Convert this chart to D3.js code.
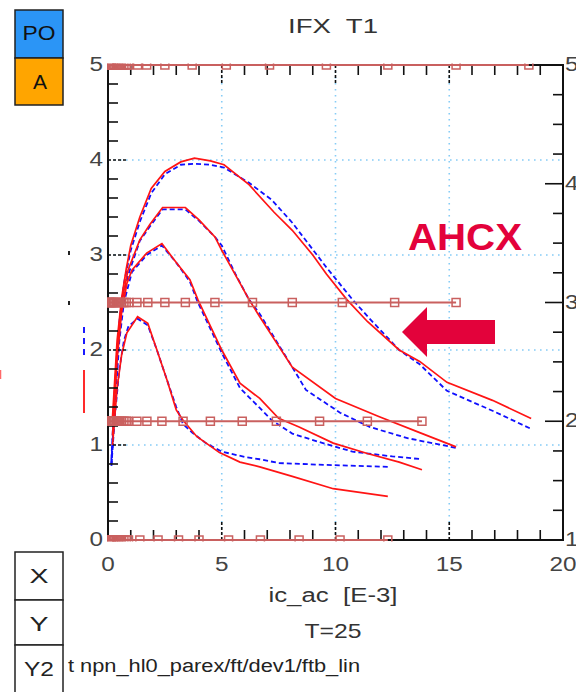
<!DOCTYPE html>
<html><head><meta charset="utf-8">
<script src="https://cdn.jsdelivr.net/npm/d3@7"></script>
<style>body{margin:0;background:#fff}svg{display:block}</style>
</head><body>
<svg id="c" width="576" height="692"></svg>
<script>
// ---------- data ----------
const xTickLabels = [0,5,10,15,20];
const yTickLabels = [0,1,2,3,4,5];
const y2TickLabels = [1,2,3,4,5];

// simulated (red, solid) and measured (blue, dashed) curves: [ic_ac (E-3), value]
const redA = [[0.2,1.3],[0.4,2.1],[0.6,2.55],[0.8,2.85],[1.0,3.1],[1.4,3.4],[1.9,3.7],[2.5,3.88],[3.2,3.98],[3.8,4.02],[4.5,3.99],[5.1,3.95],[6.2,3.74],[7.3,3.45],[8.1,3.26],[9.0,3.0],[9.6,2.8],[10.5,2.53],[11.4,2.3],[12.8,2.0],[13.7,1.88],[14.9,1.66],[16.9,1.47],[18.6,1.28]];
const blueA = [[0.15,0.85],[0.3,1.6],[0.5,2.3],[0.7,2.7],[1.0,3.05],[1.4,3.35],[1.9,3.65],[2.5,3.85],[3.2,3.95],[3.8,3.96],[4.5,3.95],[5.1,3.92],[6.2,3.76],[7.2,3.58],[8.1,3.34],[9.6,2.87],[10.75,2.53],[11.5,2.33],[12.8,2.0],[13.7,1.85],[14.9,1.57],[16.9,1.36],[18.6,1.17]];
const redB = [[0.2,1.2],[0.4,2.0],[0.6,2.5],[0.88,2.84],[1.4,3.16],[1.84,3.32],[2.4,3.5],[3.4,3.5],[4.0,3.37],[4.7,3.19],[5.0,3.05],[5.6,2.79],[6.2,2.53],[6.67,2.35],[8.1,1.82],[10.0,1.49],[11.9,1.3],[13.7,1.13],[15.3,0.98]];
const blueB = [[0.15,0.8],[0.3,1.5],[0.5,2.2],[0.7,2.6],[0.9,2.8],[1.4,3.15],[1.84,3.3],[2.4,3.48],[3.4,3.48],[4.0,3.36],[4.7,3.19],[5.0,3.1],[5.6,2.8],[6.2,2.53],[6.67,2.38],[8.1,1.82],[8.7,1.58],[10.2,1.34],[11.5,1.19],[13.2,1.07],[15.3,0.97]];
const redC = [[0.2,1.1],[0.4,1.9],[0.6,2.4],[0.83,2.7],[1.05,2.84],[1.7,3.02],[2.37,3.12],[3.0,2.92],[3.6,2.74],[3.95,2.53],[5.0,2.0],[5.8,1.65],[6.67,1.49],[7.5,1.28],[8.4,1.19],[9.9,1.02],[11.4,0.91],[12.8,0.82],[13.8,0.74]];
const blueC = [[0.15,0.8],[0.3,1.4],[0.5,2.1],[0.7,2.5],[1.05,2.82],[1.7,3.0],[2.37,3.1],[3.0,2.92],[3.6,2.72],[3.95,2.5],[5.0,1.97],[5.8,1.6],[6.67,1.39],[7.2,1.26],[8.1,1.12],[9.3,1.03],[10.75,0.93],[12.5,0.88],[13.8,0.85]];
const redD = [[0.2,1.0],[0.4,1.6],[0.6,1.95],[0.83,2.18],[1.3,2.35],[1.75,2.28],[2.15,2.0],[2.6,1.68],[3.0,1.37],[3.3,1.26],[3.9,1.09],[4.9,0.92],[5.8,0.82],[6.67,0.77],[8.1,0.67],[9.9,0.54],[12.3,0.46]];
const blueD = [[0.15,0.78],[0.3,1.3],[0.5,1.8],[0.7,2.1],[0.9,2.25],[1.3,2.33],[1.75,2.26],[2.15,2.0],[2.6,1.68],[3.0,1.4],[3.3,1.22],[3.7,1.13],[4.3,1.02],[5.0,0.93],[6.1,0.87],[6.67,0.85],[7.5,0.81],[9.6,0.79],[12.3,0.77]];

// Y2 (right axis) constant lines with markers at the bias points
const y2Levels = [5,3,2,1];
const y2X5 = [0.02,0.05,0.08,0.12,0.16,0.2,0.25,0.3,0.36,0.43,0.5,0.6,0.7,0.8,0.9,1.3,1.7,2.5,3.7,5.2,7.1,9.6,12.3,15.3,18.5];
const y2X3 = [0.02,0.05,0.08,0.12,0.16,0.2,0.25,0.3,0.36,0.43,0.5,0.6,0.7,0.8,0.92,1.27,1.75,2.5,3.4,4.7,6.35,8.1,10.3,12.6,15.3];
const y2X2 = [0.02,0.05,0.08,0.12,0.16,0.2,0.25,0.3,0.36,0.43,0.5,0.6,0.7,0.8,0.88,1.27,1.71,2.37,3.3,4.5,5.9,7.4,9.3,11.4,13.8];
const y2X1 = [0.02,0.05,0.08,0.12,0.16,0.2,0.25,0.3,0.36,0.43,0.5,0.6,0.7,0.8,0.9,1.4,2.2,3.1,4.0,5.3,6.7,8.4,10.2,12.3];

// ---------- drawing ----------
const svg = d3.select("#c");
const FONT = "'Liberation Sans', Arial, sans-serif";
const L = 108, R = 563, T = 65, B = 540;
const x = d3.scaleLinear().domain([0,20]).range([L,R]);
const y = d3.scaleLinear().domain([0,5]).range([B,T]);
const y2 = d3.scaleLinear().domain([1,5]).range([B,T]);

const defs = svg.append("defs");
defs.append("clipPath").attr("id","plot")
  .append("rect").attr("x",L).attr("y",T).attr("width",R-L).attr("height",B-T);
defs.append("clipPath").attr("id","plot2")
  .append("rect").attr("x",L-1).attr("y",T-1.5).attr("width",R-L+2).attr("height",B-T+3);

// grid
const gridC = "#86ccf6";
const g = svg.append("g");
[5,10,15].forEach(v => g.append("line").attr("x1",x(v)).attr("x2",x(v)).attr("y1",T).attr("y2",B)
  .attr("stroke",gridC).attr("stroke-width",1.6).attr("stroke-dasharray","1.6,4.4"));
[1,2,3,4].forEach(v => g.append("line").attr("x1",L).attr("x2",R).attr("y1",y(v)).attr("y2",y(v))
  .attr("stroke",gridC).attr("stroke-width",1.6).attr("stroke-dasharray","1.6,4.4"));

// curves
const plot = svg.append("g").attr("clip-path","url(#plot)");
const line = d3.line().x(d => x(d[0])).y(d => y(d[1]));
[blueA,blueB,blueC,blueD].forEach(s => plot.append("path").attr("d",line(s)).attr("fill","none")
  .attr("stroke","#1010ff").attr("stroke-width",1.8).attr("stroke-dasharray","5,3"));
[redA,redB,redC,redD].forEach(s => plot.append("path").attr("d",line(s)).attr("fill","none")
  .attr("stroke","#ff1414").attr("stroke-width",1.7));

// axes frame
const ax = svg.append("g").attr("stroke","#111");
ax.append("rect").attr("x",L).attr("y",T).attr("width",R-L).attr("height",B-T)
  .attr("fill","none").attr("stroke-width",2);
d3.range(1,20).forEach(v => {
  const major = v % 5 === 0;
  const len = major ? 18 : 10;
  [[B,-1],[T,1]].forEach(([y0,dir]) => {
    ax.append("line").attr("x1",x(v)).attr("x2",x(v)).attr("y1",y0).attr("y2",y0+dir*len)
      .attr("stroke-width",1.6).attr("stroke-dasharray", major ? "3,2" : null);
  });
});
d3.range(1,25).forEach(k => {
  const v = k*0.2;
  const major = k % 5 === 0;
  ax.append("line").attr("x1",L).attr("x2",L+(major?18:10)).attr("y1",y(v)).attr("y2",y(v))
    .attr("stroke-width",1.6).attr("stroke-dasharray", major ? "3,2" : null);
});
d3.range(1,16).forEach(k => {
  const v = 1 + k*0.25;
  const major = k % 4 === 0;
  ax.append("line").attr("x1",R).attr("x2",R-(major?18:10)).attr("y1",y2(v)).attr("y2",y2(v))
    .attr("stroke-width",1.6);
});

// y2 lines with square markers (drawn over the frame)
const y2C = "#c9605f";
const plot2 = svg.append("g").attr("clip-path","url(#plot2)");
[y2X5,y2X3,y2X2,y2X1].forEach((xs,i) => {
  const lv = y2Levels[i];
  plot2.append("line").attr("x1",x(0)).attr("x2",x(d3.max(xs))).attr("y1",y2(lv)).attr("y2",y2(lv))
    .attr("stroke",y2C).attr("stroke-width",1.8);
  plot2.selectAll(null).data(xs).enter().append("rect")
    .attr("x",d => x(d)-4).attr("y",y2(lv)-4).attr("width",8).attr("height",8)
    .attr("fill","none").attr("stroke",y2C).attr("stroke-width",1.5);
});

// tick labels
const lab = svg.append("g").attr("font-family",FONT).attr("font-size",20).attr("fill","#444")
  .attr("lengthAdjust","spacingAndGlyphs");
const tl = v => String(v).length * 13.5;
xTickLabels.forEach(v => lab.append("text").attr("x",x(v)).attr("y",571).attr("text-anchor","middle")
  .attr("textLength",tl(v)).attr("lengthAdjust","spacingAndGlyphs").text(v));
yTickLabels.forEach(v => lab.append("text").attr("x",103).attr("y",y(v)+6).attr("text-anchor","end")
  .attr("textLength",tl(v)).attr("lengthAdjust","spacingAndGlyphs").text(v));
y2TickLabels.forEach(v => lab.append("text").attr("x",565).attr("y",y2(v)+6).attr("text-anchor","start")
  .attr("textLength",tl(v)).attr("lengthAdjust","spacingAndGlyphs").text(v));

// titles
const tx = svg.append("g").attr("font-family",FONT).attr("fill","#333");
const txt = (s,xx,yy,fs,len,anchor,fill) => tx.append("text").attr("x",xx).attr("y",yy)
  .attr("text-anchor",anchor).attr("font-size",fs).attr("textLength",len)
  .attr("lengthAdjust","spacingAndGlyphs").attr("fill",fill||"#333").style("white-space","pre").text(s);
txt("IFX  T1",333,33,21,90,"middle");
txt("ic_ac  [E-3]",333,602,20,129,"middle");
txt("T=25",333,638,21,57,"middle");
txt("t npn_hl0_parex/ft/dev1/ftb_lin",68,672,18,292,"start","#222");

// PO / A buttons
const btn = svg.append("g").attr("font-family",FONT);
btn.append("rect").attr("x",15).attr("y",10).attr("width",48).attr("height",48).attr("fill","#2b95f6").attr("stroke","#222").attr("stroke-width",1.5);
btn.append("rect").attr("x",15).attr("y",58).attr("width",48).attr("height",47).attr("fill","#ffa500").attr("stroke","#222").attr("stroke-width",1.5);
btn.append("text").attr("x",39).attr("y",40).attr("text-anchor","middle").attr("font-size",20).attr("fill","#111")
  .attr("textLength",33).attr("lengthAdjust","spacingAndGlyphs").text("PO");
btn.append("text").attr("x",40).attr("y",89).attr("text-anchor","middle").attr("font-size",21).attr("fill","#111").text("A");
[["X",552,600,19],["Y",600,645,19],["Y2",645,700,30]].forEach(([t,y0,y1,w]) => {
  btn.append("rect").attr("x",15).attr("y",y0).attr("width",48).attr("height",y1-y0).attr("fill","#fff").attr("stroke","#222").attr("stroke-width",1.5);
  btn.append("text").attr("x",39).attr("y",y0+31).attr("text-anchor","middle").attr("font-size",21).attr("fill","#222")
    .attr("textLength",w).attr("lengthAdjust","spacingAndGlyphs").text(t);
});

// stray legend fragments at left
svg.append("rect").attr("x",68).attr("y",251).attr("width",2).attr("height",4).attr("fill","#222");
svg.append("rect").attr("x",68).attr("y",301).attr("width",2).attr("height",4).attr("fill","#222");
svg.append("line").attr("x1",84).attr("x2",84).attr("y1",327).attr("y2",358).attr("stroke","#1a1aff").attr("stroke-width",2).attr("stroke-dasharray","6,5");
svg.append("line").attr("x1",84).attr("x2",84).attr("y1",370).attr("y2",413).attr("stroke","#ff2a2a").attr("stroke-width",2);
svg.append("line").attr("x1",0.5).attr("x2",0.5).attr("y1",370).attr("y2",379).attr("stroke","#ff6a6a").attr("stroke-width",1.5);

// AHCX annotation and arrow
svg.append("text").attr("x",408).attr("y",250).attr("font-family",FONT).attr("font-weight","bold")
  .attr("font-size",37).attr("textLength",114).attr("lengthAdjust","spacingAndGlyphs")
  .attr("fill","#e3023b").text("AHCX");
svg.append("path").attr("d","M402,332 L427,307 L427,320 L495,320 L495,344 L427,344 L427,357 Z").attr("fill","#e3023b");
</script>
</body></html>
